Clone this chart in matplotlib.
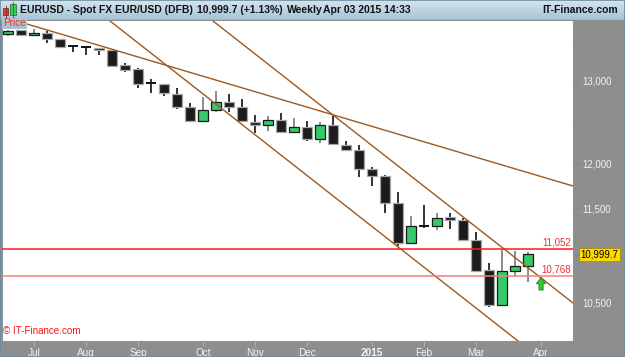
import matplotlib
matplotlib.use("Agg")
import matplotlib.pyplot as plt
import matplotlib.transforms as mtransforms
from matplotlib.patches import Rectangle
import numpy as np
import pandas as pd

plt.rcParams['font.family'] = ['Liberation Sans', 'DejaVu Sans']

# weekly EUR/USD candles (x10000), week starting Mondays
weeks = pd.date_range('2014-06-23', periods=41, freq='W-MON')
opens = [13594, 13646, 13580, 13607, 13528, 13442, 13425, 13412, 13390, 13195,
         13144, 12975, 12959, 12835, 12673, 12509, 12639, 12733, 12672, 12497,
         12458, 12517, 12371, 12430, 12287, 12454, 12220, 12161, 11941, 11861,
         11560, 11123, 11304, 11304, 11399, 11369, 11152, 10835, 10476, 10825, 10877]
highs = [13650, 13650, 13659, 13641, 13538, 13455, 13429, 13416, 13396, 13228,
         13164, 13018, 12965, 12909, 12721, 12794, 12875, 12835, 12770, 12578,
         12566, 12606, 12538, 12505, 12497, 12569, 12267, 12216, 11967, 11872,
         11680, 11413, 11531, 11442, 11442, 11391, 11233, 10905, 11045, 11038, 11021]
lows = [13571, 13578, 13571, 13484, 13416, 13361, 13326, 13322, 13177, 13113,
        12905, 12851, 12810, 12655, 12491, 12505, 12611, 12611, 12493, 12359,
        12390, 12359, 12371, 12271, 12240, 12220, 12153, 11853, 11747, 11449,
        11088, 11109, 11279, 11260, 11271, 11147, 10811, 10452, 10470, 10759, 10707]
closes = [13641, 13580, 13607, 13528, 13433, 13442, 13425, 13386, 13190, 13135,
          12955, 12975, 12843, 12670, 12509, 12639, 12733, 12672, 12502, 12458,
          12517, 12371, 12430, 12287, 12454, 12226, 12161, 11941, 11861, 11560,
          11123, 11304, 11304, 11394, 11369, 11152, 10825, 10476, 10825, 10877, 10999.7]

# trend lines: two anchors each, (week index, price)
trend_lines = [((1.46, 13729), (43.46, 11747)),
               ((7.85, 13769), (39.23, 10119)),
               ((15.77, 13769), (43.46, 10496))]
levels = [11052, 10768]
level_colors = ['#ff1a1a', '#f28080']
last_price = 10999.7

y_ticks = [10500, 11000, 11500, 12000, 12500, 13000, 13500]
y_labels = ['10,500', '', '11,500', '12,000', '', '13,000', '']
months = ['2014-07', '2014-08', '2014-09', '2014-10', '2014-11', '2014-12',
          '2015-01', '2015-02', '2015-03', '2015-04']
month_labels = ['Jul', 'Aug', 'Sep', 'Oct', 'Nov', 'Dec', '2015', 'Feb', 'Mar', 'Apr']

W, H = 625, 357
fig = plt.figure(figsize=(W / 100, H / 100), dpi=100, facecolor='#8e8e8e')

# title bar
tax = fig.add_axes([0, 1 - 20 / H, 1, 20 / H])
grad = np.linspace(0, 1, 50).reshape(-1, 1)
top_c = np.array([0.83, 0.90, 0.94])
bot_c = np.array([0.64, 0.77, 0.84])
img = top_c + (bot_c - top_c) * grad[:, :, None]
tax.imshow(img, aspect='auto', extent=[0, W, 20, 0])
tax.set_xlim(0, W)
tax.set_ylim(20, 0)
tax.axis('off')
tax.axhline(19.5, color='#7896a6', lw=1)
# little candle icon
tax.add_patch(Rectangle((3, 8), 5, 7, fc='#e03a3a', ec='#802020', lw=0.5))
tax.plot([5.5, 5.5], [6, 17], color='#802020', lw=0.6, zorder=1)
tax.add_patch(Rectangle((10, 4), 5.5, 11, fc='#3ccc5a', ec='#1f6f30', lw=0.5))
tax.plot([12.7, 12.7], [2, 18], color='#1f6f30', lw=0.6, zorder=1)
tkw = dict(fontsize=7.5, fontweight='bold', va='center', color='#111111')
tax.text(20.5, 10, 'EURUSD - Spot FX EUR/USD (DFB)', **tkw)
tax.text(197, 10, '10,999.7 (+1.13%)', **tkw)
tax.text(287, 10, 'Weekly', **tkw)
tax.text(323, 10, 'Apr 03 2015 14:33', **tkw)
tax.text(618, 10, 'IT-Finance.com', ha='right', fontsize=7.5,
         fontweight='bold', va='center', color='#111111')

# main chart
ax = fig.add_axes([2 / W, 16 / H, 571 / W, 320 / H])
ax.set_facecolor('white')
ax.set_yscale('log')
ax.set_xlim(-0.46, 43.46)
ax.set_ylim(10119, 13769)

idx = np.arange(len(weeks))
o = np.array(opens, float)
c = np.array(closes, float)
hi = np.array(highs, float)
lo = np.array(lows, float)
up = c > o
down = c < o
doji = c == o

ax.vlines(idx[up], lo[up], hi[up], color='#7a7a7a', lw=1.2, zorder=2)
ax.vlines(idx[~up], lo[~up], hi[~up], color='#111111', lw=1.2, zorder=2)
ax.bar(idx[down], o[down] - c[down], bottom=c[down], width=0.8,
       color='#1c1c1c', edgecolor='#a8a8a8', lw=0.9, zorder=3)
ax.bar(idx[up], c[up] - o[up], bottom=o[up], width=0.8,
       color='#35c96a', edgecolor='#1a1a1a', lw=0.9, zorder=3)
ax.hlines(c[doji], idx[doji] - 0.4, idx[doji] + 0.4, color='#111111', lw=1.4, zorder=3)

# trend lines
xx = np.array([-1.0, 45.0])
for (x0, p0), (x1, p1) in trend_lines:
    slope = (np.log(p1) - np.log(p0)) / (x1 - x0)
    ax.plot(xx, np.exp(np.log(p0) + slope * (xx - x0)), color='#9a5a20', lw=1.0, zorder=4)

# horizontal levels
blend = mtransforms.blended_transform_factory(ax.transAxes, ax.transData)
for lev, col in zip(levels, level_colors):
    ax.axhline(lev, color=col, lw=1.1, zorder=4)
    ax.text(0.9965, lev * 1.0015, f'{lev:,}', transform=blend, ha='right', va='bottom',
            fontsize=7, color='#f03030', zorder=5)

# buy arrow
ax.annotate('', xy=(41, levels[1] * 0.999), xytext=(41, 10628),
            arrowprops=dict(arrowstyle='simple,head_length=0.45,head_width=0.65,tail_width=0.3',
                            fc='#33cc33', ec='#1b7a1b', lw=0.6, shrinkA=0, shrinkB=0),
            zorder=5)

# last price box
ax.text(1.0135, last_price, '10,999.7', transform=blend, ha='left', va='center',
        fontsize=6.9, color='black', clip_on=False, zorder=6,
        bbox=dict(boxstyle='square,pad=0.18', fc='#ffd800', ec='#a89000', lw=0.6))

# y axis on right
ax.yaxis.tick_right()
ax.yaxis.set_minor_locator(plt.NullLocator())
ax.set_yticks(y_ticks)
ax.set_yticklabels(y_labels)
ax.yaxis.set_minor_formatter(plt.NullFormatter())
ax.tick_params(axis='y', which='both', right=True, left=False, direction='out',
               length=4, width=0.8, color='#6b8ea0', labelcolor='#f4f4f4',
               labelsize=6.9, pad=2.5)

# x axis: first weekly bar of each month
tick_pos = []
for m in months:
    first = pd.Timestamp(m + '-01')
    tick_pos.append((first - weeks[0]).days // 7 + (1 if (first - weeks[0]).days % 7 else 0))
ax.set_xticks(tick_pos)
ax.set_xticklabels(month_labels)
ax.tick_params(axis='x', direction='out', length=3.5, width=0.8, color='#b0b0b0',
               labelcolor='#f4f4f4', labelsize=7.2, pad=1.2)
for lab in ax.get_xticklabels():
    if lab.get_text() == '2015':
        lab.set_fontweight('bold')

for s in ax.spines.values():
    s.set_color('#7f98a6')
    s.set_linewidth(0.8)
ax.spines['top'].set_visible(False)

# "Price" tag (straddles the title bar edge) and watermark
fig.text(3 / W, 1 - 18.5 / H, 'Price', ha='left', va='top', fontsize=7.2,
         color='#e8342f', zorder=10,
         bbox=dict(boxstyle='square,pad=0.08', fc='#a9c3cf', ec='none'))
ax.text(0.002, 0.015, '\u00a9 IT-Finance.com', transform=ax.transAxes, ha='left',
        va='bottom', fontsize=7.1, color='#ff1010', zorder=7)

fig.patches.append(Rectangle((0, 0), 1, 1, transform=fig.transFigure, fill=False,
                             ec='#6f8b9b', lw=1.2))

fig.savefig('out.png', dpi=100, facecolor=fig.get_facecolor())
